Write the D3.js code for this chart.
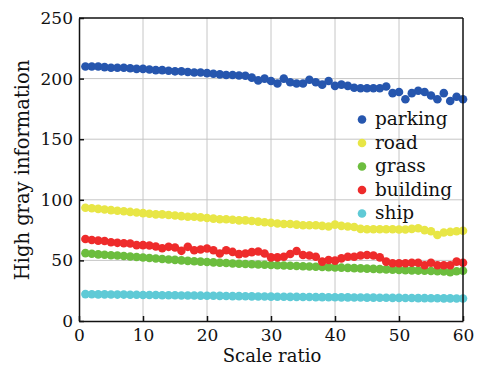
<!DOCTYPE html>
<html>
<head>
<meta charset="utf-8">
<script src="https://cdn.jsdelivr.net/npm/d3@7"></script>
<style>
  body { margin: 0; background: #fff; }
  text { font-family: "DejaVu Serif", serif; }
</style>
</head>
<body>
<svg width="485" height="371"></svg>
<script>
// values, scale ratio 1..60
let parking = [210, 210, 210, 209.5, 209, 209, 209, 208.5, 208, 208,
  207.5, 207, 207, 206.5, 206, 206, 205.5, 205, 205, 204.5,
  204, 203.5, 203, 203, 202.5, 202.4, 200.8, 198.5, 200, 198,
  196, 200, 197, 196, 196, 199, 197, 195, 198, 194,
  195, 194, 192.5, 192, 192, 192, 192, 193.5, 188, 189,
  183, 188, 190, 189, 186, 183, 188, 181.5, 185, 183];
let road = [93.5, 93, 92.5, 92, 91.5, 91, 90.5, 90, 89.5, 89,
  88.5, 88, 88, 87.5, 87, 86.5, 86, 86, 85.5, 85,
  84.5, 84, 84, 83.5, 83, 83, 82.5, 82, 81.5, 81,
  80.5, 80, 80, 79.5, 79, 79, 79, 78.5, 78, 79.5,
  78.5, 78, 77.5, 76, 75.7, 75.7, 75.7, 75.7, 75.7, 75.5,
  75.5, 76, 76.5, 75, 74, 71, 73, 73.5, 74, 74.5];
let grass = [56, 55.5, 55, 54.7, 54.3, 54, 53.6, 53.2, 52.8, 52.4,
  52, 51.6, 51.2, 50.8, 50.4, 50, 49.6, 49.3, 49, 48.7,
  48.4, 48.1, 47.8, 47.5, 47.2, 47, 46.8, 46.6, 46.4, 46.2,
  46, 45.8, 45.6, 45.4, 45.2, 45, 44.8, 44.6, 44.4, 44.2,
  44, 43.8, 43.6, 43.4, 43.2, 43, 42.8, 42.6, 42.4, 42.2,
  42, 41.8, 41.6, 41.4, 41.2, 41, 40.8, 40.2, 41, 41.5];
let building = [67.7, 66.8, 66.3, 66, 65, 64.5, 64.2, 64, 62.6, 62.6,
  62.3, 61.5, 60, 61.2, 60.6, 57.9, 61.2, 58.4, 59, 59.8,
  58.4, 55.7, 58.4, 57, 55.2, 55.7, 56.8, 57.3, 55.7, 52.5,
  52.5, 53, 55.3, 57.8, 54.5, 54, 53, 49, 50.3, 49.8,
  51.7, 53, 53, 54, 54.5, 54, 52.5, 49, 47.6, 47.6,
  47.6, 48, 48, 46, 48, 46, 46, 46, 49, 48];
let ship = [22.2, 22.1, 22, 22, 21.9, 21.8, 21.8, 21.7, 21.6, 21.5,
  21.5, 21.4, 21.3, 21.2, 21.2, 21.1, 21, 21, 20.9, 20.8,
  20.8, 20.7, 20.6, 20.5, 20.5, 20.4, 20.3, 20.2, 20.2, 20.1,
  20, 20, 19.9, 19.9, 19.8, 19.8, 19.7, 19.7, 19.6, 19.6,
  19.5, 19.5, 19.4, 19.4, 19.3, 19.3, 19.2, 19.2, 19.1, 19.1,
  19, 19, 18.9, 18.9, 18.8, 18.8, 18.7, 18.7, 18.6, 18.6];

let names = ["parking", "road", "grass", "building", "ship"];
let colors = ["#2656ae", "#e8e646", "#6cbd3e", "#ee2b2b", "#5fcad6"];
let xTicks = [0, 10, 20, 30, 40, 50, 60];
let yTicks = [0, 50, 100, 150, 200, 250];

let series = [parking, road, grass, building, ship];

let svg = d3.select("svg");
let mLeft = 79, mRight = 463, mTop = 18, mBottom = 321;

let x = d3.scaleLinear().domain([0, 60]).range([mLeft, mRight]);
let y = d3.scaleLinear().domain([0, 250]).range([mBottom, mTop]);

// grid
svg.append("g")
  .selectAll("line")
  .data([10, 20, 30, 40, 50])
  .enter()
  .append("line")
  .attr("x1", d => x(d)).attr("x2", d => x(d))
  .attr("y1", mTop).attr("y2", mBottom)
  .attr("stroke", "#c6c6c6").attr("stroke-width", 1);
svg.append("g")
  .selectAll("line")
  .data([50, 100, 150, 200])
  .enter()
  .append("line")
  .attr("x1", mLeft).attr("x2", mRight)
  .attr("y1", d => y(d)).attr("y2", d => y(d))
  .attr("stroke", "#c6c6c6").attr("stroke-width", 1);

// points
series.forEach(function(s, k) {
  svg.append("g")
    .selectAll("circle")
    .data(s)
    .enter()
    .append("circle")
    .attr("cx", (d, i) => x(i + 1))
    .attr("cy", d => y(d))
    .attr("r", 4.3)
    .attr("fill", colors[k]);
});

// axes, ticks inward
let xAxis = svg.append("g")
  .attr("transform", "translate(0," + mBottom + ")")
  .call(d3.axisBottom(x).tickValues(xTicks).tickSizeInner(-5).tickSizeOuter(0).tickPadding(8));
let yAxis = svg.append("g")
  .attr("transform", "translate(" + mLeft + ",0)")
  .call(d3.axisLeft(y).tickValues(yTicks).tickSizeInner(-5).tickSizeOuter(0).tickPadding(6));
[xAxis, yAxis].forEach(function(a) {
  a.selectAll("text").style("font-family", "DejaVu Serif").style("font-size", "17px").attr("fill", "#111");
  a.selectAll("line").attr("stroke", "#111").attr("stroke-width", 1.5);
  a.select(".domain").attr("stroke", "#111").attr("stroke-width", 1.5);
});

// box top/right
svg.append("line").attr("x1", mLeft).attr("x2", mRight).attr("y1", mTop).attr("y2", mTop)
  .attr("stroke", "#111").attr("stroke-width", 1.5);
svg.append("line").attr("x1", mRight).attr("x2", mRight).attr("y1", mTop).attr("y2", mBottom)
  .attr("stroke", "#111").attr("stroke-width", 1.5);

// axis titles
svg.append("text")
  .attr("x", 272).attr("y", 362)
  .attr("text-anchor", "middle")
  .style("font-size", "18px").attr("fill", "#111")
  .text("Scale ratio");
svg.append("text")
  .attr("transform", "translate(29,170) rotate(-90)")
  .attr("text-anchor", "middle")
  .style("font-size", "19.5px").attr("fill", "#111")
  .text("High gray information");

// legend
let legend = svg.append("g");
names.forEach(function(n, k) {
  legend.append("circle")
    .attr("cx", 362).attr("cy", 119.5 + k * 23.5)
    .attr("r", 4.3).attr("fill", colors[k]);
  legend.append("text")
    .attr("x", 375).attr("y", 125 + k * 23.5)
    .style("font-size", "18.5px").attr("fill", "#111")
    .text(n);
});
</script>
</body>
</html>
